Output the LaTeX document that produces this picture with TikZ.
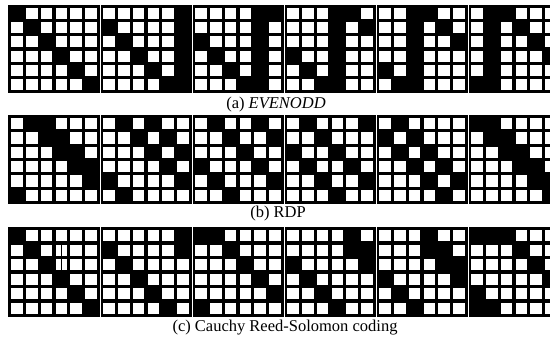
\documentclass[tikz,border=0pt]{standalone}
\usepackage{fontspec}
\setmainfont{Liberation Serif}
\newcommand{\bitgrid}[4]{%
  \fill[black] (#1,#2) rectangle ++(92,#3);
  \pgfmathsetmacro{\gcw}{89/6}
  \pgfmathsetmacro{\gch}{(#3-3)/6}
  \foreach \r in {0,...,5}{\foreach \c in {0,...,5}{
    \fill[white] ({#1+1.5+\c*\gcw+1.6},{#2+1.5+\r*\gch+1.6}) rectangle ({#1+1.5+(\c+1)*\gcw-1.6},{#2+1.5+(\r+1)*\gch-1.6});
  }}
  \foreach \r/\c in {#4}{
    \fill[black] ({#1+1.5+\c*\gcw},{#2+1.5+\r*\gch}) rectangle ({#1+1.5+(\c+1)*\gcw},{#2+1.5+(\r+1)*\gch});
  }
}
\tikzset{caption/.style={font=\fontsize{16.5}{18}\selectfont, inner sep=0pt, anchor=center},
  gridsep/.style={white, line width=0.7pt}}
\begin{document}
\begin{tikzpicture}[x=1pt,y=-1pt]
\useasboundingbox (0,0) rectangle (550,337);
\clip (0,0) rectangle (550,337);
% (a) EVENODD
\bitgrid{8}{5}{88}{0/0,1/1,2/2,3/3,4/4,5/5}
\bitgrid{100}{5}{88}{1/0,2/1,3/2,4/3,5/4,0/5,1/5,2/5,3/5,4/5,5/5}
\bitgrid{192}{5}{88}{0/5,2/0,3/1,4/2,5/3,0/4,1/4,2/4,3/4,4/4,5/4}
\bitgrid{284}{5}{88}{0/4,1/5,3/0,4/1,5/2,0/3,1/3,2/3,3/3,4/3,5/3}
\bitgrid{376}{5}{88}{0/3,1/4,2/5,4/0,5/1,0/2,1/2,2/2,3/2,4/2,5/2}
\bitgrid{468}{5}{88}{0/2,1/3,2/4,3/5,5/0,0/1,1/1,2/1,3/1,4/1,5/1}
% (b) RDP
\bitgrid{8}{115}{89}{0/1,1/2,2/3,3/4,4/5,0/2,1/3,2/4,3/5,5/0}
\bitgrid{100}{115}{89}{0/1,1/2,2/3,3/4,4/5,0/3,1/4,2/5,4/0,5/1}
\bitgrid{192}{115}{89}{0/1,1/2,2/3,3/4,4/5,0/4,1/5,3/0,4/1,5/2}
\bitgrid{284}{115}{89}{0/1,1/2,2/3,3/4,4/5,0/5,2/0,3/1,4/2,5/3}
\bitgrid{376}{115}{89}{0/1,1/2,2/3,3/4,4/5,1/0,2/1,3/2,4/3,5/4}
\bitgrid{468}{115}{89}{0/1,1/2,2/3,3/4,4/5,0/0,1/1,2/2,3/3,4/4,5/5}
% (c) Cauchy Reed-Solomon
\bitgrid{8}{227}{90}{0/0,1/1,2/2,3/3,4/4,5/5}
\bitgrid{100}{227}{90}{0/5,1/0,1/5,2/1,3/2,4/3,5/4}
\bitgrid{192}{227}{90}{0/0,0/1,1/2,2/3,3/4,4/5,5/0}
\bitgrid{284}{227}{90}{0/4,1/4,1/5,2/0,2/5,3/1,4/2,5/3}
\bitgrid{376}{227}{90}{0/3,1/3,1/4,2/4,2/5,3/0,3/5,4/1,5/2}
\bitgrid{468}{227}{90}{0/0,0/1,0/2,1/3,2/4,3/5,4/0,5/0,5/1}
\draw[line width=1.8pt] (61.5,245) -- (61.5,272);
% thin separations between grids
\foreach \gx in {100,192,284,376,468}{
  \draw[gridsep] (\gx,5) -- (\gx,93);
  \draw[gridsep] (\gx,115) -- (\gx,204);
  \draw[gridsep] (\gx,227) -- (\gx,317);
}
% captions
\node[caption] (capa) at (276,105) {(a) \textit{EVENODD}};
\node[caption] (capb) at (278,214) {(b) RDP};
\node[caption] (capc) at (285,328) {(c) Cauchy Reed-Solomon coding};
\end{tikzpicture}
\end{document}
